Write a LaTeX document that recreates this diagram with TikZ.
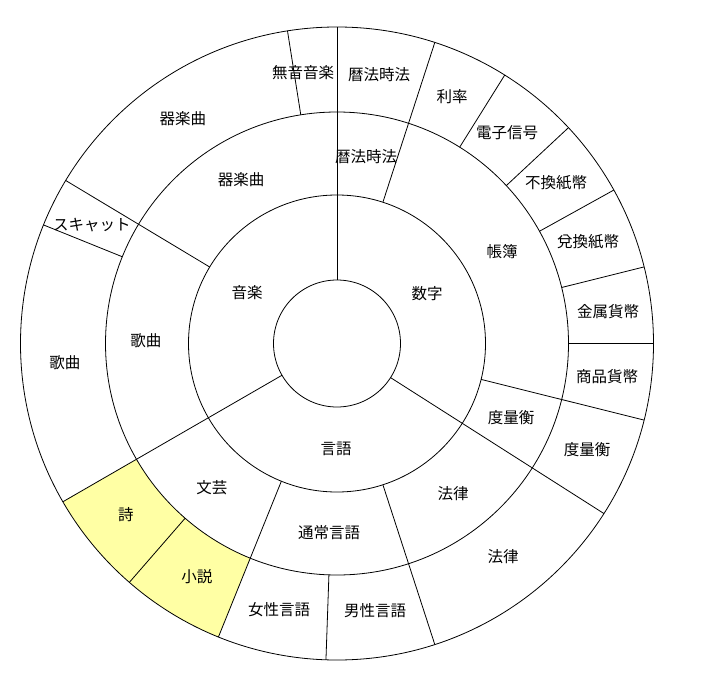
\documentclass[tikz,border=0pt]{standalone}
\usepackage{fontspec}
\newfontfamily\jpfont{Noto Sans CJK JP}
\definecolor{hilite}{RGB}{255,255,164}
\begin{document}
\begin{tikzpicture}[x=1pt,y=1pt,
  ringline/.style={black,line width=0.8pt},
  lbl/.style={font=\jpfont\fontsize{15.5}{15.5}\selectfont,inner sep=0pt}]
\useasboundingbox (-337,-330.5) rectangle (371,343.5);
\def\ra{63.5}\def\rb{148.5}\def\rc{231.5}\def\rd{316.5}
% highlighted cells
\fill[hilite] (210:\rc) arc[start angle=210,end angle=248,radius=\rc] -- (248:\rd) arc[start angle=248,end angle=210,radius=\rd] -- cycle;
% circles
\foreach \r in {\ra,\rb,\rc,\rd} \draw[ringline] (0,0) circle[radius=\r];
% radial lines
\foreach \a in {90,210,-32.5} \draw[ringline] (\a:\ra) -- (\a:\rd);
\foreach \a in {72,149,-14,-72,248} \draw[ringline] (\a:\rb) -- (\a:\rd);
\foreach \a in {99,158,229,268,0,14,29,43,58} \draw[ringline] (\a:\rc) -- (\a:\rd);
% inner ring labels
\node[lbl] (l1) at (247-337,343.5-293) {音楽};
\node[lbl] (l2) at (427-337,343.5-294) {数字};
\node[lbl] (l3) at (336-337,343.5-449) {言語};
% middle ring labels
\node[lbl] (m1) at (241-337,343.5-180) {器楽曲};
\node[lbl] (m2) at (366-337,343.5-157) {暦法時法};
\node[lbl] (m3) at (502-337,343.5-252) {帳簿};
\node[lbl] (m4) at (511-337,343.5-418) {度量衡};
\node[lbl] (m5) at (453-337,343.5-494) {法律};
\node[lbl] (m6) at (329-337,343.5-533) {通常言語};
\node[lbl] (m7) at (212-337,343.5-488) {文芸};
\node[lbl] (m8) at (146-337,343.5-341) {歌曲};
% outer ring labels
\node[lbl] (o1) at (303-337,343.5-73) {無音音楽};
\node[lbl] (o2) at (379-337,343.5-75) {暦法時法};
\node[lbl] (o3) at (452-337,343.5-97) {利率};
\node[lbl] (o4) at (507-337,343.5-133) {電子信号};
\node[lbl] (o5) at (556-337,343.5-183) {不換紙幣};
\node[lbl] (o6) at (588-337,343.5-242) {兌換紙幣};
\node[lbl] (o7) at (608-337,343.5-312) {金属貨幣};
\node[lbl] (o8) at (607-337,343.5-377) {商品貨幣};
\node[lbl] (o9) at (587-337,343.5-450) {度量衡};
\node[lbl] (o10) at (503-337,343.5-557) {法律};
\node[lbl] (o11) at (375-337,343.5-611) {男性言語};
\node[lbl] (o12) at (279-337,343.5-610) {女性言語};
\node[lbl] (o13) at (197-337,343.5-577) {小説};
\node[lbl] (o14) at (126-337,343.5-515) {詩};
\node[lbl] (o15) at (65-337,343.5-363) {歌曲};
\node[lbl] (o16) at (92-337,343.5-225) {スキャット};
\node[lbl] (o17) at (183-337,343.5-119) {器楽曲};
\end{tikzpicture}
\end{document}
